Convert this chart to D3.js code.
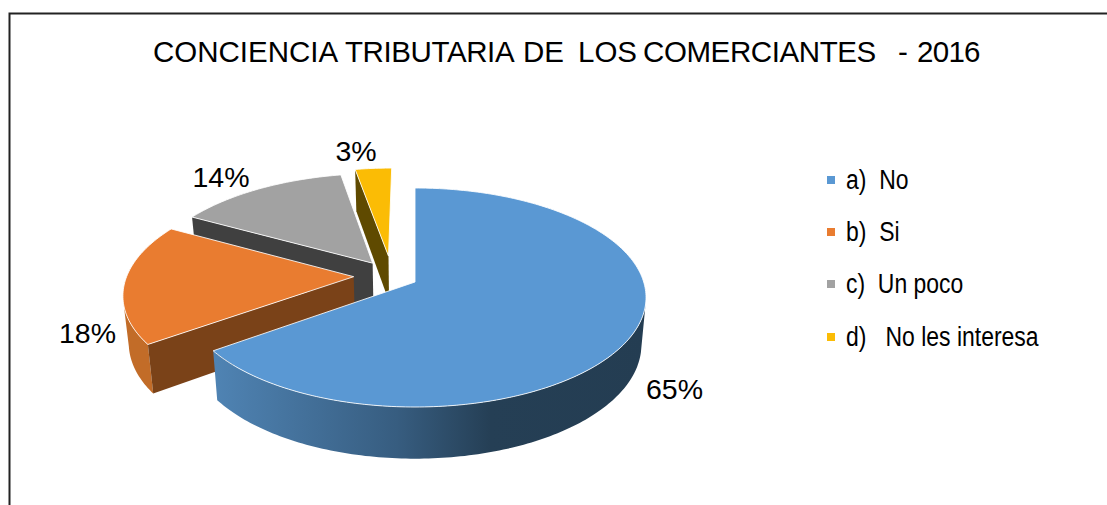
<!DOCTYPE html>
<html>
<head>
<meta charset="utf-8">
<script src="https://cdn.jsdelivr.net/npm/d3@7"></script>
<style>
  html, body { margin: 0; padding: 0; background: #fff; }
  text { font-family: "Liberation Sans", Arial, sans-serif; fill: #000; white-space: pre; }
</style>
</head>
<body>
<svg id="chart" width="1107" height="505"></svg>
<script>
var categories = ['a)  No', 'b)  Si', 'c)  Un poco', 'd)   No les interesa'];
var values = [65, 18, 14, 3];
var labels = ['65%', '18%', '14%', '3%'];
var titleWords = ['CONCIENCIA', 'TRIBUTARIA', 'DE', 'LOS', 'COMERCIANTES', '-', '2016'];

var topColors = ['#5a98d3', '#e97c30', '#a2a2a2', '#fbbc05'];
var edgeColors = ['#24405a', '#7a4218', '#404040', '#5f4a00'];
var rimColors = ['url(#blueRim)', '#c26c28', '#404040', '#5f4a00'];

// how far each slice is pulled out, in pie radius units, and where text goes
var explode = [[0, 0], [-0.27, 0.05], [-0.19, 0.18], [-0.12, 0.25]];
var labelPos = [[674.5, 399], [87.5, 343], [221, 187], [356, 161]];
var legendY = [180, 232, 284, 337];
var titleX = [153, 345, 523, 578, 643, 898, 917];
var titleTrack = [0, -0.4, 0, 0, -0.4, 0, -0.7];

var svg = d3.select('#chart');

// frame, only top and left are in the picture
svg.append('path')
  .attr('d', 'M9.5,505V13.5H1107')
  .attr('fill', 'none')
  .attr('stroke', '#222')
  .attr('stroke-width', 2);

svg.append('text')
  .attr('y', 62)
  .attr('font-size', 29.5)
  .selectAll('tspan')
  .data(titleWords)
  .join('tspan')
  .attr('x', function(d, i) { return titleX[i]; })
  .attr('letter-spacing', function(d, i) { return titleTrack[i]; })
  .text(function(d, i) { return i < titleWords.length - 1 ? d + ' ' : d; });

var defs = svg.append('defs');
var grad = defs.append('linearGradient')
  .attr('id', 'blueRim')
  .attr('gradientUnits', 'userSpaceOnUse')
  .attr('x1', 216).attr('x2', 646)
  .attr('y1', 0).attr('y2', 0);
[[0, '#4f83b3'], [0.42, '#375d80'], [0.64, '#253f55'], [1, '#243d52']].forEach(function(s) {
  grad.append('stop').attr('offset', s[0]).attr('stop-color', s[1]);
});

// tilted pie with a bit of perspective
var cx = 415, cy = 282, rx = 228.7, ry = 107.3, persp = 0.1416;
var depth = 46.5, shrink = 0.98;

function project(u, v, bottom) {
  var w = 1 / (1 + persp * v);
  var x = rx * u * w, y = ry * v * w;
  if (bottom) {
    return [cx + x * shrink, cy - y * shrink + depth * w];
  }
  return [cx + x, cy - y];
}

function rimPoint(a, off, bottom) {
  return project(off[0] + Math.sin(a), off[1] + Math.cos(a), bottom);
}

var line = d3.line();
var pie = d3.pie().sort(null);
var arcs = pie(values);

var slices = svg.append('g');

// back slices first, the big one goes over them
arcs.map(function(d, i) { return { arc: d, i: i }; }).reverse().forEach(function(s) {
  var d = s.arc, i = s.i;
  var off = explode[i];
  var g = slices.append('g');
  var steps = d3.range(d.startAngle, d.endAngle, Math.PI / 180).concat([d.endAngle]);

  // outer wall, only the part that faces us
  var front = steps.filter(function(a) { return Math.cos(a) < -0.2; });
  if (front.length > 1) {
    var wall = front.map(function(a) { return rimPoint(a, off, false); })
      .concat(front.slice().reverse().map(function(a) { return rimPoint(a, off, true); }));
    g.append('path').attr('d', line(wall) + 'Z').attr('fill', rimColors[i]);
  }

  // cut wall at the start of the slice
  if (Math.sin(d.startAngle) < 0) {
    var cut = [
      project(off[0], off[1], false),
      rimPoint(d.startAngle, off, false),
      rimPoint(d.startAngle, off, true),
      project(off[0], off[1], true)
    ];
    g.append('path').attr('d', line(cut) + 'Z').attr('fill', edgeColors[i]);
  }

  var face = [project(off[0], off[1], false)]
    .concat(steps.map(function(a) { return rimPoint(a, off, false); }));
  g.append('path')
    .attr('d', line(face) + 'Z')
    .attr('fill', topColors[i])
    .attr('stroke', '#fff')
    .attr('stroke-opacity', 0.85)
    .attr('stroke-width', 1);
});

svg.append('g').selectAll('text')
  .data(labels)
  .join('text')
  .attr('x', function(d, i) { return labelPos[i][0]; })
  .attr('y', function(d, i) { return labelPos[i][1]; })
  .attr('text-anchor', 'middle')
  .attr('font-size', 28.5)
  .text(function(d) { return d; });

var legend = svg.append('g').selectAll('g')
  .data(categories)
  .join('g')
  .attr('transform', function(d, i) { return 'translate(827,' + legendY[i] + ')'; });

legend.append('rect')
  .attr('y', -4)
  .attr('width', 8)
  .attr('height', 8)
  .attr('fill', function(d, i) { return topColors[i]; });

legend.append('text')
  .attr('transform', 'translate(19,9) scale(0.85,1)')
  .attr('font-size', 27)
  .text(function(d) { return d; });
</script>
</body>
</html>
